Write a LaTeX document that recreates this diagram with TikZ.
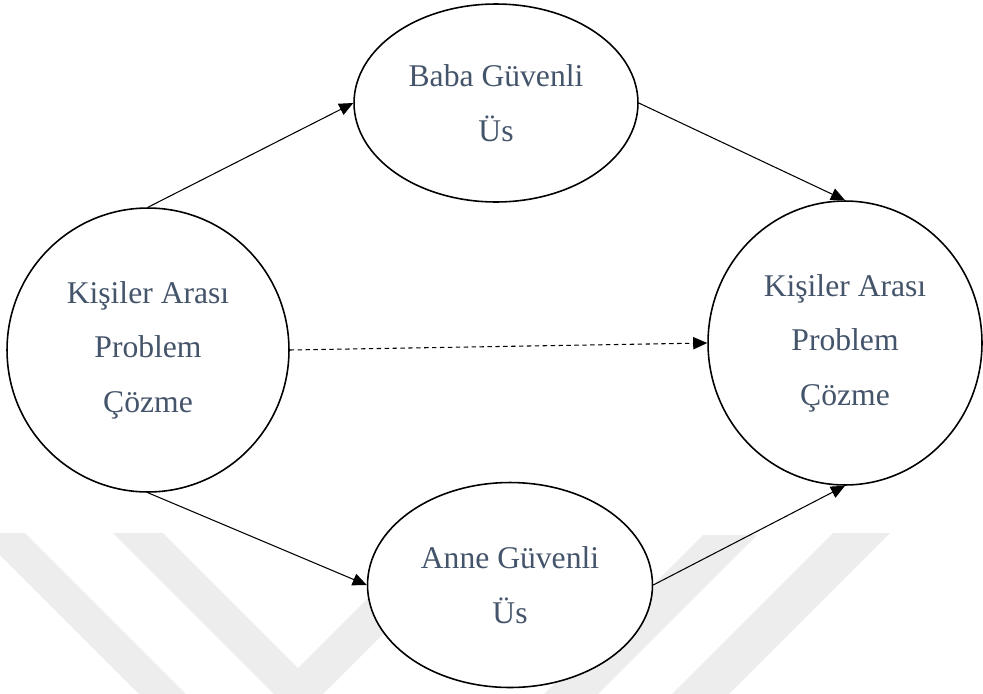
\documentclass[tikz,border=0pt]{standalone}
\usepackage{fontspec}
\setmainfont{Liberation Serif}
\usetikzlibrary{shapes.geometric}
\usetikzlibrary{arrows.meta}
\tikzset{>={Triangle[length=8pt,width=7pt]}}
\definecolor{labelcol}{HTML}{44546A}
\colorlet{markcol}{black!7}

\begin{document}
\begin{tikzpicture}[x=0.02cm,y=-0.02cm,
    bubble/.style={ellipse,draw,line width=0.9pt,fill=white,inner sep=0pt,
      text=labelcol,align=center,font=\fontsize{18}{31}\selectfont},
    link/.style={->,line width=0.6pt}]
                \useasboundingbox (0,0) rectangle (983,693);
                % faint watermark behind the figure
                \begin{scope}
                    \clip (0,0) rectangle (983,693);
                    \fill[markcol] (-22,533) -- (25,533) -- (192,700) -- (145,700) -- cycle;
                    \fill[markcol] (113,533) -- (163,533) -- (298,668) -- (433,533) -- (484,533) -- (298.5,718.5) -- cycle;
                    \fill[markcol] (703,535) -- (757,535) -- (592,700) -- (538,700) -- cycle;
                    \fill[markcol] (833,533) -- (890,533) -- (723,700) -- (666,700) -- cycle;
                \end{scope}
                \node[bubble,minimum width=5.64cm,minimum height=5.68cm] (leftpc) at (148,350) {Kişiler Arası\\Problem\\Çözme};
                \node[bubble,minimum width=5.68cm,minimum height=3.96cm] (baba) at (496,103) {Baba Güvenli\\Üs};
                \node[bubble,minimum width=5.70cm,minimum height=4.10cm] (anne) at (510,585) {Anne Güvenli\\Üs};
                \node[bubble,minimum width=5.48cm,minimum height=5.68cm] (rightpc) at (845,343) {Kişiler Arası\\Problem\\Çözme};
                \draw[link] (leftpc.north) -- (baba.west);
                \draw[link] (baba.east) -- (rightpc.north);
                \draw[link] (leftpc.south) -- (anne.west);
                \draw[link] (anne.east) -- (rightpc.south);
                \draw[link,dash pattern=on 2.5pt off 2pt] (leftpc.east) -- (rightpc.west);
            \end{tikzpicture}
\end{document}
